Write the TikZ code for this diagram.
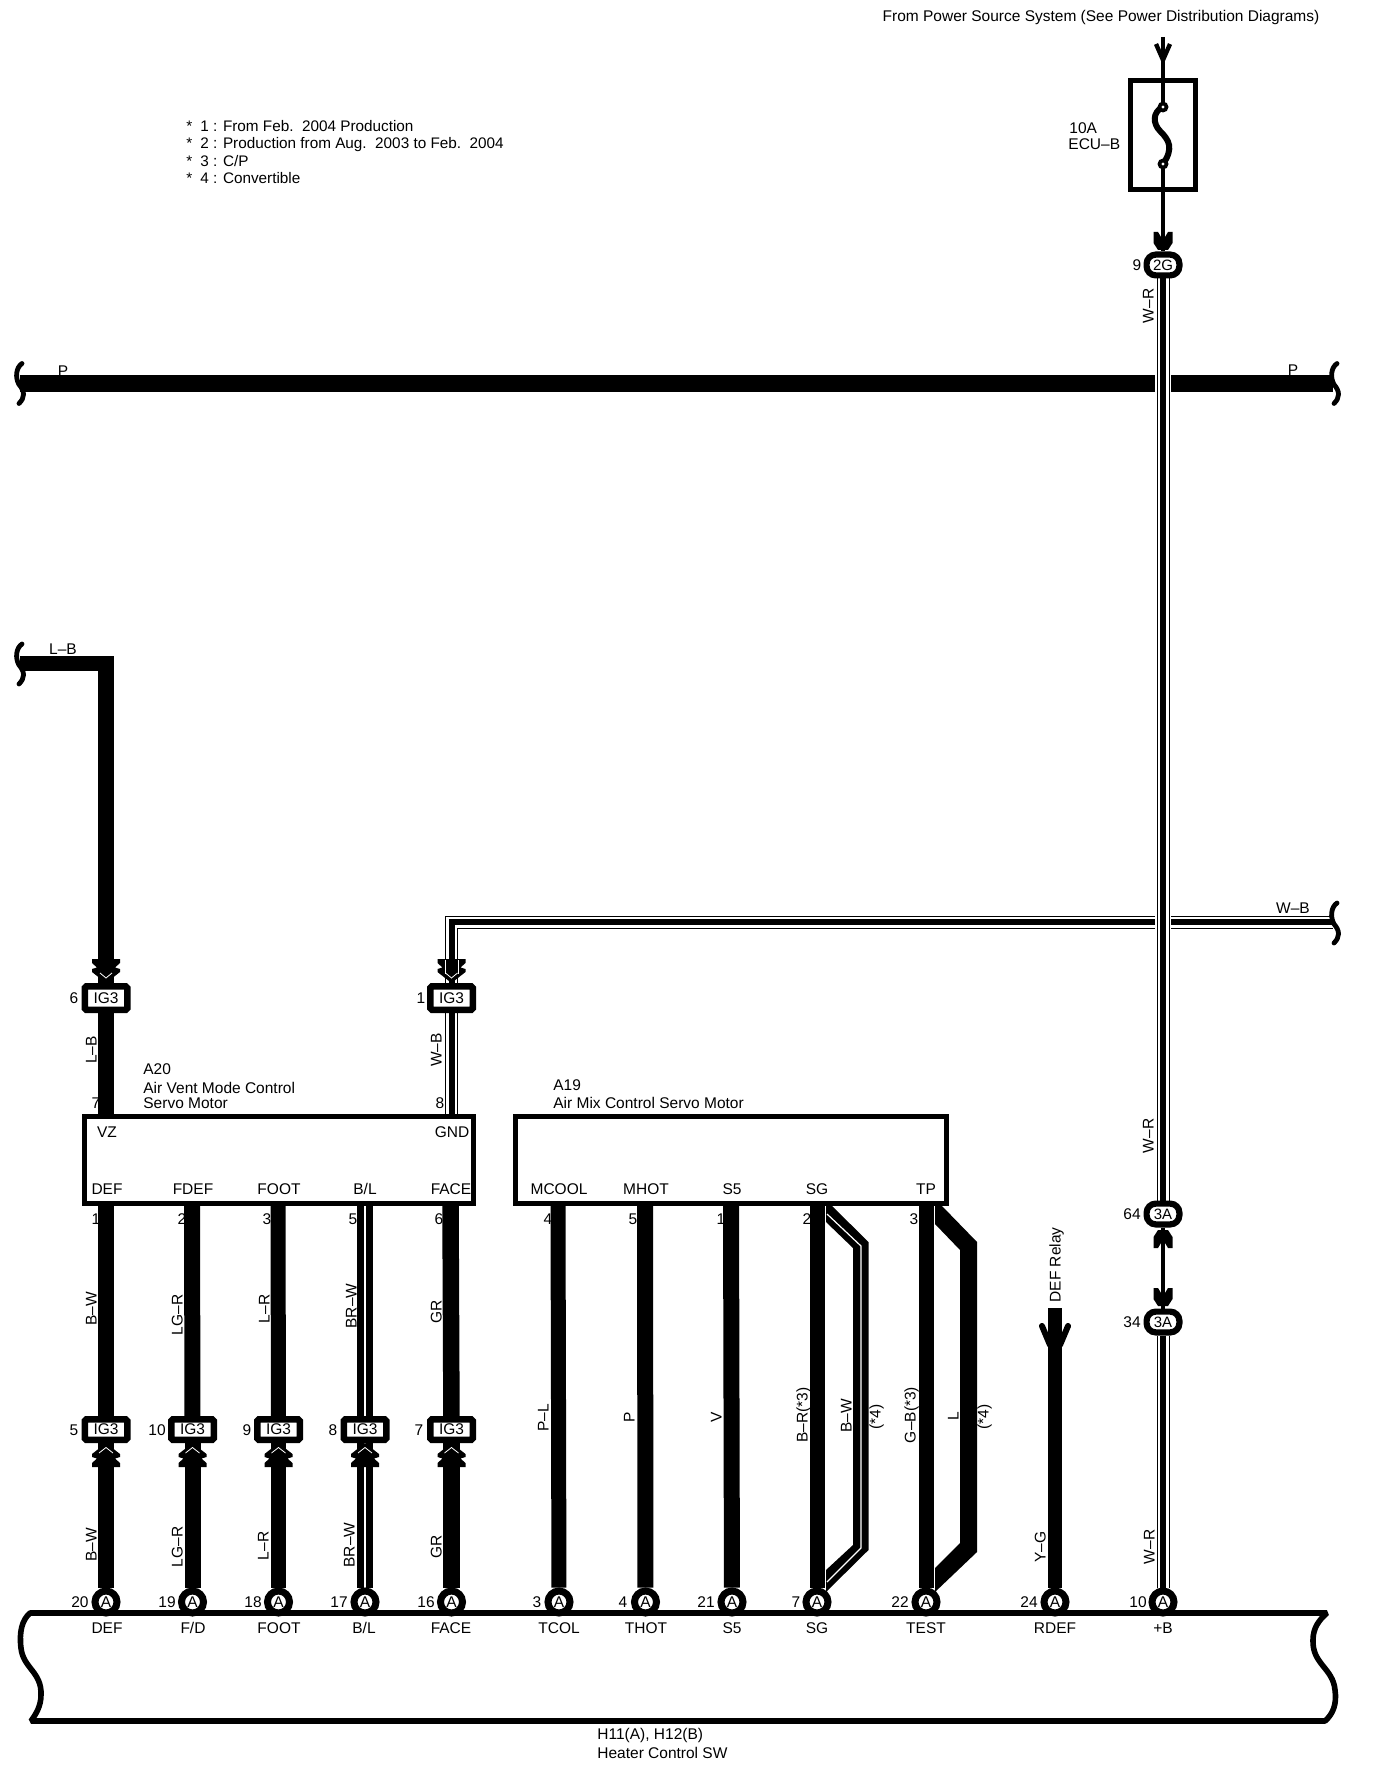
\documentclass[tikz,border=0pt]{standalone}
\usepackage{fontspec}
\setmainfont{Liberation Sans}
\pgfdeclarelayer{lab}\pgfdeclarelayer{wires}
\pgfsetlayers{lab,wires,main}
\newcommand\stripe[1]{\draw[line width=6.5pt,black,miter limit=10]#1;\draw[line width=5.5pt,white,miter limit=10]#1;\draw[line width=3pt,black,miter limit=10]#1;}
\tikzset{
 txt/.style={inner sep=0pt,text height=5.5pt,text depth=0pt,font=\fontsize{7.75}{9}\selectfont},
 ltxt/.style={txt,anchor=west},
 ntxt/.style={ltxt,font=\fontsize{7.65}{9}\selectfont},
 vtxt/.style={txt,rotate=90},
 igu/.style={draw,fill=white,line width=3.25pt,minimum width=21.25pt,minimum height=11.75pt,inner sep=0pt,rounded corners=.8pt,font=\fontsize{7.75}{9}\selectfont},
 igl/.style={igu,minimum height=10.25pt},
 round/.style={draw,fill=white,circle,line width=3.5pt,minimum size=11pt,inner sep=0pt,font=\fontsize{7.75}{9}\selectfont},
 oval/.style={draw,fill=white,line width=3.1pt,minimum width=16.4pt,minimum height=10.4pt,inner sep=0pt,rounded corners=4.6pt,font=\fontsize{7.5}{9}\selectfont},
 comp/.style={draw,fill=white,line width=2.6pt,inner sep=0pt},
 ww/.style={line width=#1*.5pt,black},
 squig/.pic={\draw[line width=2.4pt,line cap=round](3,-20) .. controls (-3,-16) and (-4,-6) .. (0,1) .. controls (6,8) and (6,14) .. (0,20);},
 chevd/.pic={\fill (0,0) -- (14,-11) -- (14,-14) -- (9,-15.5) -- (14,-20) -- (14,-24) -- (-14,-24) -- (-14,-20) -- (-9,-15.5) -- (-14,-14) -- (-14,-11) -- cycle;},
 chevu/.pic={\fill (0,0) -- (14,11) -- (14,14) -- (9,15.5) -- (14,20) -- (14,24) -- (-14,24) -- (-14,20) -- (-9,15.5) -- (-14,14) -- (-14,11) -- cycle;},
 forkd/.pic={\fill (-9.5,-19) -- (-5,-19) -- (-2,-14) -- (2,-14) -- (5,-19) -- (9.5,-19) -- (9.5,-8) -- (5,-1) -- (-5,-1) -- (-9.5,-8) -- cycle;},
}
\begin{document}
\begin{tikzpicture}[x=.5pt,y=-.5pt]
\useasboundingbox (0,0) rectangle (1392,1792);
% ---- texts that the wires partly cover
\begin{pgfonlayer}{lab}
\fill[white] (0,0) rectangle (1392,1792);
\node[txt] (tfrom) at (1101,16) {From Power Source System (See Power Distribution Diagrams)};
\node[ntxt] (n1) at (186,126) {*\hspace{4pt}1 : From Feb.\ \ 2004 Production};
\node[ntxt] (n2) at (186,143) {*\hspace{4pt}2 : Production from Aug.\ \ 2003 to Feb.\ \ 2004};
\node[ntxt] (n3) at (186,161) {*\hspace{4pt}3 : C/P};
\node[ntxt] (n4) at (186,178.5) {*\hspace{4pt}4 : Convertible};
\node[ltxt] (t10a) at (1069,128) {10A};
\node[ltxt] (tecu) at (1068,144) {ECU–B};
\node[txt] (t9) at (1137,265) {9};
\node[vtxt] (twr1) at (1148,306) {W–R};
\node[vtxt] (twr2) at (1148,1136) {W–R};
\node[vtxt] (twr3) at (1149,1547) {W–R};
\node[txt] (t64) at (1132,1214) {64};
\node[txt] (t34) at (1132,1322) {34};
\node[txt] (tpl) at (63,371) {P};
\node[txt] (tpr) at (1293,370) {P};
\node[txt] (tlb) at (63,649) {L–B};
\node[txt] (twb) at (1293,908) {W–B};
\node[txt] (t6) at (74,998) {6};
\node[txt] (t1) at (421,998) {1};
\node[vtxt] (tlbv) at (91,1050) {L–B};
\node[vtxt] (twbv) at (436,1050) {W–B};
\node[ltxt] (ta20) at (143,1069) {A20};
\node[ltxt] (ta20b) at (143,1088) {Air Vent Mode Control};
\node[ltxt] (ta20c) at (143,1103) {Servo Motor};
\node[ltxt] (ta19) at (553,1085) {A19};
\node[ltxt] (ta19b) at (553,1103) {Air Mix Control Servo Motor};
\node[txt] (p7) at (96,1103) {7};
\node[txt] (p8) at (440,1103) {8};
\foreach \k/\x/\t in {a/96/1,b/182/2,c/267/3,d/353/5,e/439/6,f/548/4,g/633/5,h/721/1,i/807/2,j/914/3}
  \node[txt] (pin\k) at (\x,1219) {\t};
\foreach \k/\x/\t in {a/74/5,b/157/10,c/247/9,d/333/8,e/419/7}
  \node[txt] (ign\k) at (\x,1430) {\t};
\foreach \k/\x/\t in {a/80/20,b/167/19,c/253/18,d/339/17,e/426/16,f/537/3,g/623/4,h/706/21,i/796/7,j/900/22,k/1029/24,l/1138/10}
  \node[txt] (hn\k) at (\x,1602) {\t};
\foreach \k/\x/\y/\t in {a/91/1309/B–W,b/177/1315/LG–R,c/264/1309/L–R,d/351/1306/BR–W,e/436/1312/GR,
  f/91/1545/B–W,g/177/1547/LG–R,h/263/1546/L–R,i/349/1545/BR–W,j/436/1547/GR,
  k/543/1418/P–L,l/629/1417/P,m/716/1417/V,n/802/1415/B–R(*3),o/846/1416/B–W,p/875/1417/(*4),
  q/910/1415/G–B(*3),r/953/1416/L,s/983/1417/(*4),t/1040/1547/Y–G,u/1055/1265/DEF Relay}
  \node[vtxt] (wl\k) at (\x,\y) {\t};
\end{pgfonlayer}
% ---- components
\node[comp,minimum width=32.5pt,minimum height=54.5pt] (fuse) at (1163,135) {};
\node[oval] (c2g) at (1163,265) {2G};
\node[oval] (c64) at (1163,1214) {3A};
\node[oval] (c34) at (1163,1322) {3A};
\node[igu] (iglb) at (106,998) {IG3};
\node[igu] (igwb) at (451.5,998) {IG3};
\node[comp,minimum width=194.5pt,minimum height=43.5pt] (a20) at (279,1160) {};
\node[comp,minimum width=215.5pt,minimum height=43.5pt] (a19) at (731,1160) {};
\foreach \k/\x/\t in {vz/107/VZ,gnd/452/GND} \node[txt] (l\k) at (\x,1132) {\t};
\foreach \k/\x/\t in {def/107/DEF,fdef/193/FDEF,foot/279/FOOT,bl/365/{B/L},face/451/FACE,mc/559/MCOOL,mh/646/MHOT,sf/732/S5,sg/817/SG,tp/926/TP}
  \node[txt] (l\k) at (\x,1189) {\t};
\foreach \k/\x in {def/106,fdef/192.5,foot/278.5,bl/365,face/451.5}
  \node[igl] (ig\k) at (\x,1429.5) {IG3};
\foreach \k/\x in {def/106,fdef/192.5,foot/278.5,bl/365,face/451.5,mc/559,mh/645.5,sf/732,sg/817,tp/926,rd/1055,pb/1163}
  \node[round] (h\k) at (\x,1602) {A};
\draw[line width=2.8pt,line join=bevel] (30,1613) .. controls (22,1620) and (19,1632) .. (21,1648) .. controls (23,1668) and (42,1672) .. (41,1695) .. controls (41,1706) and (36,1714) .. (31,1721) -- (1325,1721) .. controls (1333,1714) and (1337,1704) .. (1335,1690) .. controls (1333,1668) and (1312,1664) .. (1313,1640) .. controls (1313,1628) and (1319,1620) .. (1327,1613) -- cycle;
\foreach \k/\x/\t in {def/107/DEF,fd/193/{F/D},foot/279/FOOT,bl/364/{B/L},face/451/FACE,tc/559/TCOL,th/646/THOT,sf/732/S5,sg/817/SG,te/926/TEST,rd/1055/RDEF,pb/1163/+B}
  \node[txt] (b\k) at (\x,1628) {\t};
\node[ltxt] (bh1) at (597,1734) {H11(A), H12(B)};
\node[ltxt] (bh3) at (597,1753) {Heater Control SW};
% ---- free ends
\coordinate (pl) at (20,383.5); \coordinate (pla) at (1155,383.5); \coordinate (plb) at (1171,383.5); \coordinate (pr) at (1333,383.5);
\coordinate (lbl) at (20,663.5); \coordinate (lbc) at (106,663.5);
\coordinate (wbr) at (1333,922); \coordinate (wba) at (1171,922); \coordinate (wbb) at (1155,922); \coordinate (wbc) at (451.5,922);
\coordinate (ftop) at (1163,37); \coordinate (ftt) at (1163,107); \coordinate (ftb) at (1163,164);
\coordinate (rdtop) at (1055,1308);
\foreach \k/\x in {def/106,fdef/192,foot/278,bl/365,face/450.5} \coordinate (pt\k) at (\x,1204);
\foreach \k/\x in {mc/558,mh/645,sf/731,sg/817,tp/926} \coordinate (pt\k) at (\x,1204);
\coordinate (vzp) at (106,1116); \coordinate (gndp) at (451.5,1116);
% ---- wires
\begin{pgfonlayer}{wires}
\draw[ww=17] (pl) -- (pla); \draw[ww=17] (plb) -- (pr);
\draw[ww=15.5,miter limit=10] (lbl) -- (lbc) -- (iglb);
\draw[ww=15.5] (iglb) -- (vzp);
\stripe{(wba)--(wbr)}
\stripe{(wbb)--(wbc)--(igwb)}
\stripe{(igwb)--(gndp)}
\stripe{(c2g)--(c64)}
\stripe{(c34)--(hpb)}
\draw[ww=4.5] (c64) -- (c34);
\draw[ww=4.5] (ftop) -- (fuse.north);
\draw[ww=4.5] (fuse.south) -- (c2g);
\foreach \k/\w in {def/15.5,fdef/16,foot/15,bl/16,face/16.5}{
  \draw[ww=\w] (pt\k) -- (ig\k);
  \draw[ww=\w] (ig\k) -- (h\k);
}
\draw[white,line width=.6pt] (ptbl) -- (igbl) -- (hbl);
\foreach \k/\w in {mc/15,mh/16,sf/16,sg/15,tp/15} \draw[ww=\w] (pt\k) -- (h\k);
\draw[ww=14] (rdtop) -- (hrd);
% branch wires
\fill (826,1206) -- (832,1206) -- (868.5,1242) -- (868.5,1550) -- (826,1592) -- (826,1570) -- (853,1545) -- (853,1248) -- (826,1222) -- cycle;
\draw[white,line width=.6pt] (827,1214) -- (861,1246) -- (861,1548) -- (827,1582);
\fill (935,1206) -- (942,1206) -- (977,1242) -- (977,1552) -- (935,1592) -- (935,1568) -- (960,1543) -- (960,1250) -- (935,1224) -- cycle;
\pic at (106,983) {chevd};
\pic at (451.5,983) {chevd};
\foreach \x in {106,192.5,278.5,365,451.5} \pic at (\x,1443) {chevu};
\foreach \x in {106,192.5,278.5,365,451.5} \draw[white,line width=.4pt] (\x-7,1453) -- (\x,1447.5) -- (\x+7,1453);
\foreach \x in {106,451.5} \draw[white,line width=.4pt] (\x-6,973) -- (\x,978) -- (\x+6,973);
\draw[white,line width=.5pt] (445,960) -- (445,974) (458,960) -- (458,974);
\end{pgfonlayer}
% ---- fuse element, arrowheads, break marks
\draw[ww=4.5] (fuse.north) -- (ftt);
\draw[ww=4.5] (ftb) -- (fuse.south);
\draw[line width=3pt] (ftt) .. controls (1152,112) and (1153,124) .. (1160,131) .. controls (1169,140) and (1174,148) .. (ftb);
\fill (ftt) circle[radius=5.5]; \fill (ftb) circle[radius=5.5];
\fill[white] (ftt) circle[radius=1.6]; \fill[white] (ftb) circle[radius=1.6];
\draw[line width=2.2pt] (1156,44) -- (1163,60) -- (1170,44);
\pic at (1163,251) {forkd};
\pic at (1163,1307) {forkd};
\pic[yscale=-1] at (1163,1229) {forkd};
\draw[line width=3pt,line cap=round] (1042,1326) -- (1050,1345) (1068,1326) -- (1060,1345);
\pic at (19,383.5) {squig};
\pic at (1334,383.5) {squig};
\pic at (19,664) {squig};
\pic at (1334,923) {squig};
\end{tikzpicture}
\end{document}
